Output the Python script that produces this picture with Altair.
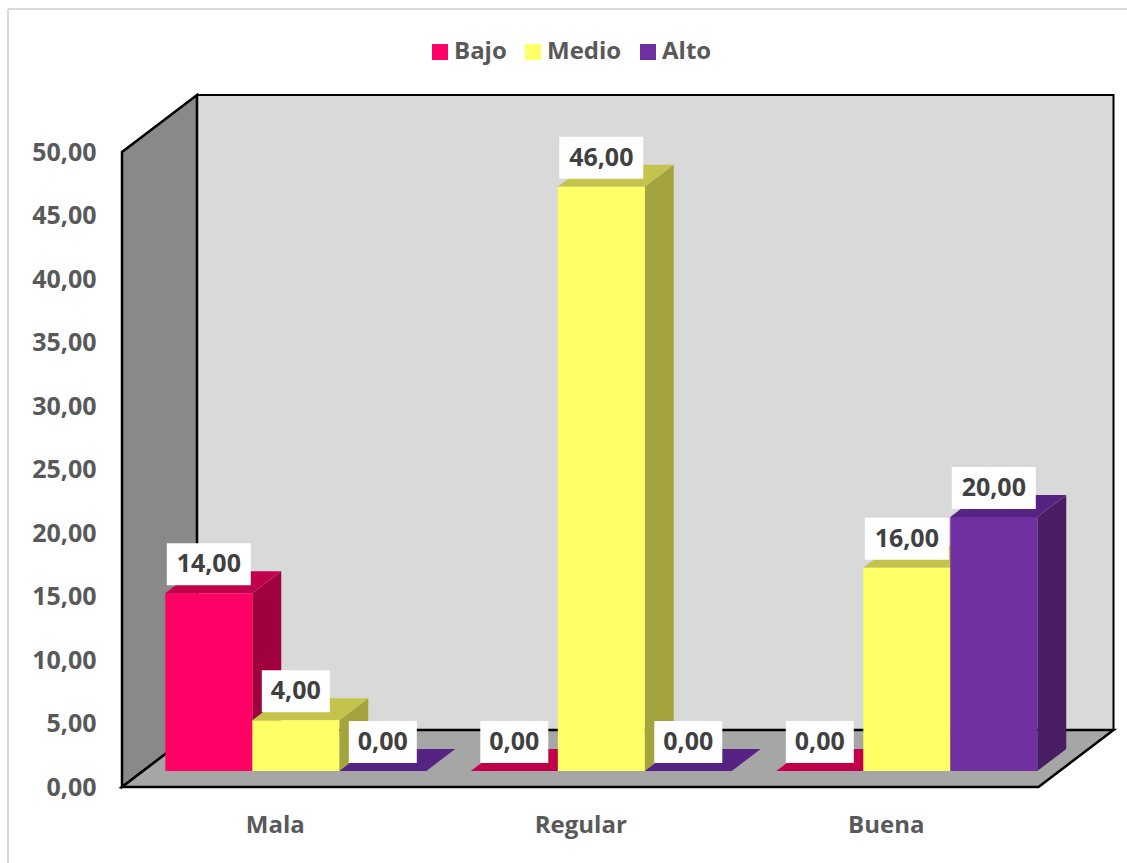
import altair as alt
import pandas as pd

# ---------------- data ----------------
categories = ["Mala", "Regular", "Buena"]
series = ["Bajo", "Medio", "Alto"]
bajo = [14, 0, 0]
medio = [4, 46, 16]
alto = [0, 0, 20]
y_ticks = [0, 5, 10, 15, 20, 25, 30, 35, 40, 45, 50]

# ---------------- styles ----------------
front_colors = ["#ff0066", "#ffff66", "#7030a0"]
top_colors = ["#c1004d", "#c3c34d", "#572383"]
side_colors = ["#a1003e", "#a4a43f", "#491e63"]
FONT = "Open Sans"

# ---------------- geometry (pseudo 3D projection) ----------------
PX_PER_CAT = 305.5
PX_PER_UNIT = 12.7
DEPTH_X, DEPTH_Y = 75, 57
BAR_PX = 87
FRONT_FRAC = 16 / 57
BAR_DEPTH_FRAC = 22 / 57
Y_TOP = 50

W = round(len(categories) * PX_PER_CAT + DEPTH_X)
H = round(Y_TOP * PX_PER_UNIT + DEPTH_Y)
x_max = W / PX_PER_CAT
y_max = H / PX_PER_UNIT
dxu = DEPTH_X / PX_PER_CAT
dyu = DEPTH_Y / PX_PER_UNIT
bw = BAR_PX / PX_PER_CAT
ncat = len(categories)

values = {"Bajo": bajo, "Medio": medio, "Alto": alto}

front_rows, top_rows, side_rows, label_rows = [], [], [], []
for i, cat in enumerate(categories):
    for j, s in enumerate(series):
        v = values[s][i]
        bid = f"{cat}-{s}"
        xl = i + 0.5 + (j - 1.5) * bw
        x0 = xl + FRONT_FRAC * dxu
        x1 = x0 + bw
        yb = FRONT_FRAC * dyu
        yt = v + yb
        gx = BAR_DEPTH_FRAC * dxu
        gy = BAR_DEPTH_FRAC * dyu
        front_rows.append(dict(serie=s, x=x0, x2=x1, y=yb, y2=yt))
        top_rows += [
            dict(bar=bid, col=top_colors[j], y=yt, x=x0, x2=x1),
            dict(bar=bid, col=top_colors[j], y=yt + gy, x=x0 + gx, x2=x1 + gx),
        ]
        side_rows += [
            dict(bar=bid, col=side_colors[j], x=x1, y=yt, y2=yb),
            dict(bar=bid, col=side_colors[j], x=x1 + gx, y=yt + gy, y2=yb + gy),
        ]
        txt = f"{v:.2f}".replace(".", ",")
        cx = (x0 + x1) / 2
        wbox = (16 * len(txt) + 4) / PX_PER_CAT
        label_rows.append(dict(
            text=txt, cx=cx, ty=yt + 29 / PX_PER_UNIT,
            bx=cx - wbox / 2, bx2=cx + wbox / 2,
            by=yt + 8 / PX_PER_UNIT, by2=yt + 50 / PX_PER_UNIT,
        ))

front_df = pd.DataFrame(front_rows)
top_df = pd.DataFrame(top_rows)
side_df = pd.DataFrame(side_rows)
label_df = pd.DataFrame(label_rows)

back_df = pd.DataFrame([dict(x=dxu, x2=ncat + dxu, y=dyu, y2=Y_TOP + dyu)])
left_df = pd.DataFrame([
    dict(x=0, y=Y_TOP, y2=0),
    dict(x=dxu, y=Y_TOP + dyu, y2=dyu),
])
floor_df = pd.DataFrame([
    dict(y=0, x=0, x2=ncat),
    dict(y=dyu, x=dxu, x2=ncat + dxu),
])

xscale = alt.Scale(domain=[0, x_max], nice=False, zero=False)
yscale = alt.Scale(domain=[0, y_max], nice=False, zero=False)

xaxis = alt.Axis(
    values=[i + 0.5 for i in range(ncat)],
    labelExpr="['" + "','".join(categories) + "'][floor(datum.value)]",
    domain=False, ticks=False, grid=False, title=None,
    labelFont=FONT, labelFontSize=24, labelFontWeight="bold",
    labelColor="#595959", labelPadding=26, labelBaseline="top",
)
yaxis = alt.Axis(
    values=y_ticks,
    labelExpr="replace(format(datum.value, '.2f'), '.', ',')",
    domain=False, ticks=False, grid=False, title=None,
    labelFont=FONT, labelFontSize=25, labelFontWeight="bold",
    labelColor="#595959", labelPadding=26,
)


def X(f):
    return alt.X(f"{f}:Q", scale=xscale, axis=xaxis, stack=None)


def Y(f):
    return alt.Y(f"{f}:Q", scale=yscale, axis=yaxis, stack=None)


back = alt.Chart(back_df).mark_rect(
    fill="#d9d9d9", stroke="#000000", strokeWidth=2
).encode(x=X("x"), x2="x2", y=Y("y"), y2="y2")

left = alt.Chart(left_df).mark_area(
    orient="vertical", fill="#898989", stroke="#000000", strokeWidth=2.5
).encode(x=X("x"), y=Y("y"), y2="y2")

floor = alt.Chart(floor_df).mark_area(
    orient="horizontal", fill="#a6a6a6", stroke="#000000", strokeWidth=2.5
).encode(y=Y("y"), x=X("x"), x2="x2")

sides = alt.Chart(side_df).mark_area(orient="vertical").encode(
    x=X("x"), y=Y("y"), y2="y2",
    detail="bar:N", fill=alt.Fill("col:N", scale=None),
)

tops = alt.Chart(top_df).mark_area(orient="horizontal").encode(
    y=Y("y"), x=X("x"), x2="x2",
    detail="bar:N", fill=alt.Fill("col:N", scale=None),
)

fronts = alt.Chart(front_df).mark_rect().encode(
    x=X("x"), x2="x2", y=Y("y"), y2="y2",
    color=alt.Color(
        "serie:N",
        scale=alt.Scale(domain=series, range=front_colors),
        sort=series,
        legend=alt.Legend(
            title=None, orient="none", direction="horizontal",
            legendX=306, legendY=-55,
            symbolType="square", symbolSize=256, symbolStrokeWidth=0,
            labelFont=FONT, labelFontSize=24, labelFontWeight="bold",
            labelColor="#595959", labelOffset=2, columnPadding=14,
        ),
    ),
)

boxes = alt.Chart(label_df).mark_rect(fill="#ffffff").encode(
    x=X("bx"), x2="bx2", y=Y("by"), y2="by2"
)

texts = alt.Chart(label_df).mark_text(
    font=FONT, fontSize=25, fontWeight="bold", color="#404040",
    align="center", baseline="middle",
).encode(x=X("cx"), y=Y("ty"), text="text:N")

dummy = pd.DataFrame([{"k": 0}])
border_top = alt.Chart(dummy).mark_rule(color="#d9d9d9", strokeWidth=2).encode(
    x=alt.value(-114), x2=alt.value(1010), y=alt.value(-86)
)
border_left = alt.Chart(dummy).mark_rule(color="#d9d9d9", strokeWidth=2).encode(
    x=alt.value(-114), y=alt.value(-86), y2=alt.value(775)
)

chart = alt.layer(
    back, left, floor, sides, tops, fronts, boxes, texts, border_top, border_left
).properties(
    width=W, height=H,
    padding={"left": 122, "top": 95, "right": 1127 - 122 - W, "bottom": 76},
    autosize="none",
    background="#ffffff",
).configure_view(stroke=None)

chart.save("out.html", embed_options={"renderer": "svg", "actions": False})
